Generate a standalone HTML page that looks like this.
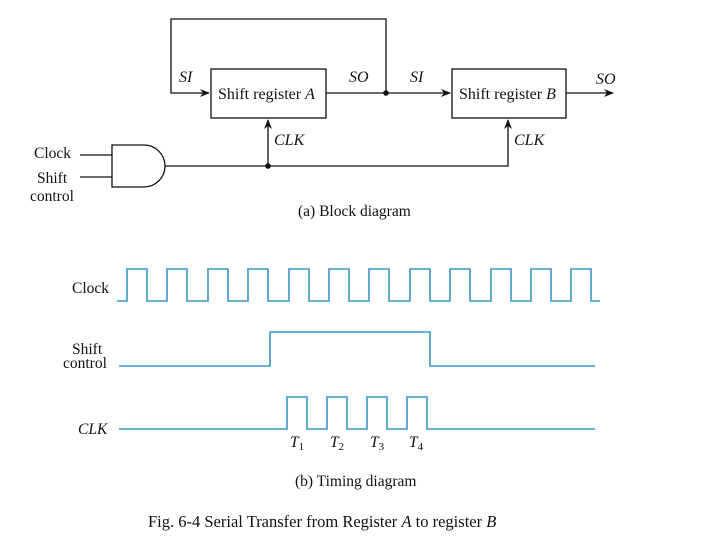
<!DOCTYPE html>
<html><head><meta charset="utf-8"><style>
html,body{margin:0;padding:0;background:#fff;}
svg{display:block;}
text{font-family:"Liberation Serif",serif;fill:#111;}
.i{font-style:italic;}
</style></head><body>
<svg width="720" height="540" viewBox="0 0 720 540" xmlns="http://www.w3.org/2000/svg">
<defs><marker id="a" markerWidth="10" markerHeight="8" refX="9" refY="4" orient="auto" markerUnits="userSpaceOnUse"><path d="M0,0 L10,4 L0,8 L3,4 Z" fill="#111"/></marker></defs>
<g stroke="#111" stroke-width="1.3" fill="none">
<path d="M386,93 V19 H171 V93 H209" marker-end="url(#a)"/>
<rect x="211" y="69" width="115" height="49"/>
<rect x="452" y="69" width="114" height="49"/>
<path d="M326,93 H450" marker-end="url(#a)"/>
<path d="M566,93 H613" marker-end="url(#a)"/>
<path d="M165,166 H508 V120" marker-end="url(#a)"/>
<path d="M268,166 V120" marker-end="url(#a)"/>
<path d="M80,155 H112 M80,177 H112"/>
<path d="M112,145 H144 A21,21 0 0 1 144,187 H112 Z"/>
</g>
<circle cx="386" cy="93" r="2.8" fill="#111"/>
<circle cx="268" cy="166" r="2.8" fill="#111"/>
<g font-size="16">
<text x="179" y="82" class="i">SI</text>
<text x="349" y="82" class="i">SO</text>
<text x="410" y="82" class="i">SI</text>
<text x="596" y="84" class="i">SO</text>
<text x="218" y="99">Shift register <tspan class="i">A</tspan></text>
<text x="459" y="99">Shift register <tspan class="i">B</tspan></text>
<text x="274" y="145" class="i">CLK</text>
<text x="514" y="145" class="i">CLK</text>
</g>
<g font-size="15.5">
<text x="34" y="158">Clock</text>
<text x="37" y="183">Shift</text>
<text x="30" y="201">control</text>
<text x="298" y="216">(a) Block diagram</text>
</g>
<g stroke="#3a95c8" stroke-width="1.6" fill="none">
<path d="M117,301 H127 V269 H147 V301 H167 V269 H187 V301 H208 V269 H228 V301 H248 V269 H268 V301 H289 V269 H309 V301 H329 V269 H349 V301 H369 V269 H389 V301 H410 V269 H430 V301 H450 V269 H470 V301 H491 V269 H511 V301 H531 V269 H551 V301 H571 V269 H591 V301 H600"/>
<path d="M119,366 H270 V332 H430 V366 H595"/>
<path d="M119,429 H287 V397 H307 V429 H327 V397 H347 V429 H367 V397 H387 V429 H407 V397 H427 V429 H595"/>
</g>
<g font-size="15.5">
<text x="72" y="293">Clock</text>
<text x="72" y="354">Shift</text>
<text x="63" y="368">control</text>
<text x="78" y="434" class="i">CLK</text>
<text x="290" y="447" class="i">T<tspan font-size="11" dy="3" font-style="normal">1</tspan></text>
<text x="330" y="447" class="i">T<tspan font-size="11" dy="3" font-style="normal">2</tspan></text>
<text x="370" y="447" class="i">T<tspan font-size="11" dy="3" font-style="normal">3</tspan></text>
<text x="409" y="447" class="i">T<tspan font-size="11" dy="3" font-style="normal">4</tspan></text>
<text x="295" y="486">(b) Timing diagram</text>
<text x="148" y="527" font-size="16.5">Fig. 6-4  Serial Transfer from Register <tspan class="i">A</tspan> to register <tspan class="i">B</tspan></text>
</g>
</svg>
</body></html>
